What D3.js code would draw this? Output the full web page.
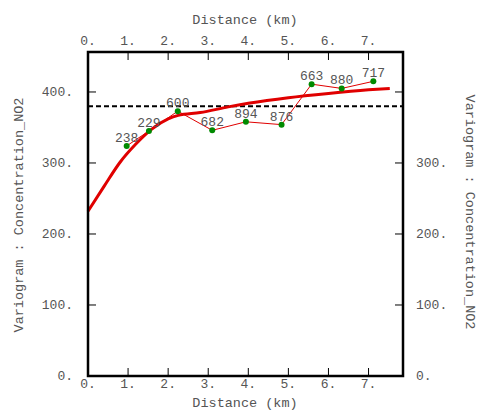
<!DOCTYPE html>
<html>
<head>
<meta charset="utf-8">
<script src="https://cdn.jsdelivr.net/npm/d3@7"></script>
<style>
  body { margin: 0; background: #fff; }
  text { font-family: "Liberation Mono", "DejaVu Sans Mono", monospace; fill: #555; }
</style>
</head>
<body>
<svg width="480" height="412"></svg>
<script>
// experimental variogram (lag distance, value, pair count)
const lagDist = [0.965, 1.52, 2.24, 3.10, 3.94, 4.83, 5.58, 6.33, 7.12];
const lagValue = [324, 345, 373, 346, 358, 354, 411, 405, 415];
const lagPairs = ["238", "229", "600", "682", "894", "876", "663", "880", "717"];

// fitted model
const modelDist = [0, 0.4, 0.8, 1.2, 1.6, 2.0, 2.25, 2.8, 3.5, 4.0, 5.0, 6.0, 7.0, 7.53];
const modelValue = [232, 267, 301, 327, 348, 362, 367, 371, 379, 384, 392, 398, 403, 405];

const sill = 380;

const xTicks = [0, 1, 2, 3, 4, 5, 6, 7];
const yTicksLeft = [0, 100, 200, 300, 400];
const yTicksRight = [0, 100, 200, 300];

const svg = d3.select("svg");
const pLeft = 88, pRight = 403, pTop = 52, pBottom = 376;

const xScale = d3.scaleLinear().domain([0, 7.86]).range([pLeft, pRight]);
const yScale = d3.scaleLinear().domain([0, 456.3]).range([pBottom, pTop]);

const fmt = (d) => d + ".";

// inward ticks on all four sides
const tickLen = 8;
svg.append("g")
  .selectAll("line")
  .data(xTicks)
  .enter()
  .append("line")
  .attr("x1", (d) => xScale(d)).attr("x2", (d) => xScale(d))
  .attr("y1", pBottom).attr("y2", pBottom - tickLen)
  .attr("stroke", "#000");
svg.append("g")
  .selectAll("line")
  .data(xTicks)
  .enter()
  .append("line")
  .attr("x1", (d) => xScale(d)).attr("x2", (d) => xScale(d))
  .attr("y1", pTop).attr("y2", pTop + tickLen)
  .attr("stroke", "#000");
svg.append("g")
  .selectAll("line")
  .data(yTicksLeft)
  .enter()
  .append("line")
  .attr("x1", pLeft).attr("x2", pLeft + tickLen)
  .attr("y1", (d) => yScale(d)).attr("y2", (d) => yScale(d))
  .attr("stroke", "#000");
svg.append("g")
  .selectAll("line")
  .data(yTicksLeft)
  .enter()
  .append("line")
  .attr("x1", pRight).attr("x2", pRight - tickLen)
  .attr("y1", (d) => yScale(d)).attr("y2", (d) => yScale(d))
  .attr("stroke", "#000");

// tick labels
svg.append("g")
  .selectAll("text")
  .data(xTicks)
  .enter()
  .append("text")
  .attr("x", (d) => xScale(d))
  .attr("y", pBottom + 12)
  .attr("text-anchor", "middle")
  .style("font-size", "13px")
  .text(fmt);
svg.append("g")
  .selectAll("text")
  .data(xTicks)
  .enter()
  .append("text")
  .attr("x", (d) => xScale(d))
  .attr("y", pTop - 7)
  .attr("text-anchor", "middle")
  .style("font-size", "13px")
  .text(fmt);
svg.append("g")
  .selectAll("text")
  .data(yTicksLeft)
  .enter()
  .append("text")
  .attr("x", pLeft - 15)
  .attr("y", (d) => yScale(d) + 4)
  .attr("text-anchor", "end")
  .style("font-size", "13px")
  .text(fmt);
svg.append("g")
  .selectAll("text")
  .data(yTicksRight)
  .enter()
  .append("text")
  .attr("x", pRight + 13)
  .attr("y", (d) => yScale(d) + 4)
  .attr("text-anchor", "start")
  .style("font-size", "13px")
  .text(fmt);

// axis titles
svg.append("text")
  .attr("x", 245).attr("y", 24)
  .attr("text-anchor", "middle")
  .style("font-size", "13.5px")
  .text("Distance (km)");
svg.append("text")
  .attr("x", 245).attr("y", 407)
  .attr("text-anchor", "middle")
  .style("font-size", "13.5px")
  .text("Distance (km)");
svg.append("text")
  .attr("transform", "translate(23,215) rotate(-90)")
  .attr("text-anchor", "middle")
  .style("font-size", "13.5px")
  .text("Variogram : Concentration_NO2");
svg.append("text")
  .attr("transform", "translate(466,212) rotate(90)")
  .attr("text-anchor", "middle")
  .style("font-size", "13.5px")
  .text("Variogram : Concentration_NO2");

// sill
svg.append("line")
  .attr("x1", pLeft).attr("x2", pRight)
  .attr("y1", yScale(sill)).attr("y2", yScale(sill))
  .attr("stroke", "#000")
  .attr("stroke-width", 2)
  .attr("stroke-dasharray", "5,3");

// model curve
const modelLine = d3.line()
  .x((d, i) => xScale(modelDist[i]))
  .y((d) => yScale(d))
  .curve(d3.curveMonotoneX);
svg.append("path")
  .attr("d", modelLine(modelValue))
  .attr("fill", "none")
  .attr("stroke", "#e00000")
  .attr("stroke-width", 3);

// experimental points
const expLine = d3.line()
  .x((d, i) => xScale(lagDist[i]))
  .y((d) => yScale(d));
svg.append("path")
  .attr("d", expLine(lagValue))
  .attr("fill", "none")
  .attr("stroke", "#e00000")
  .attr("stroke-width", 1);

svg.append("g")
  .selectAll("circle")
  .data(lagValue)
  .enter()
  .append("circle")
  .attr("cx", (d, i) => xScale(lagDist[i]))
  .attr("cy", (d) => yScale(d))
  .attr("r", 3)
  .attr("fill", "#008a00");

svg.append("g")
  .selectAll("text")
  .data(lagValue)
  .enter()
  .append("text")
  .attr("x", (d, i) => xScale(lagDist[i]))
  .attr("y", (d) => yScale(d) - 4)
  .attr("text-anchor", "middle")
  .style("font-size", "13px")
  .text((d, i) => lagPairs[i]);

// frame
svg.append("rect")
  .attr("x", pLeft).attr("y", pTop)
  .attr("width", pRight - pLeft).attr("height", pBottom - pTop)
  .attr("fill", "none")
  .attr("stroke", "#000")
  .attr("stroke-width", 2.5);
</script>
</body>
</html>
